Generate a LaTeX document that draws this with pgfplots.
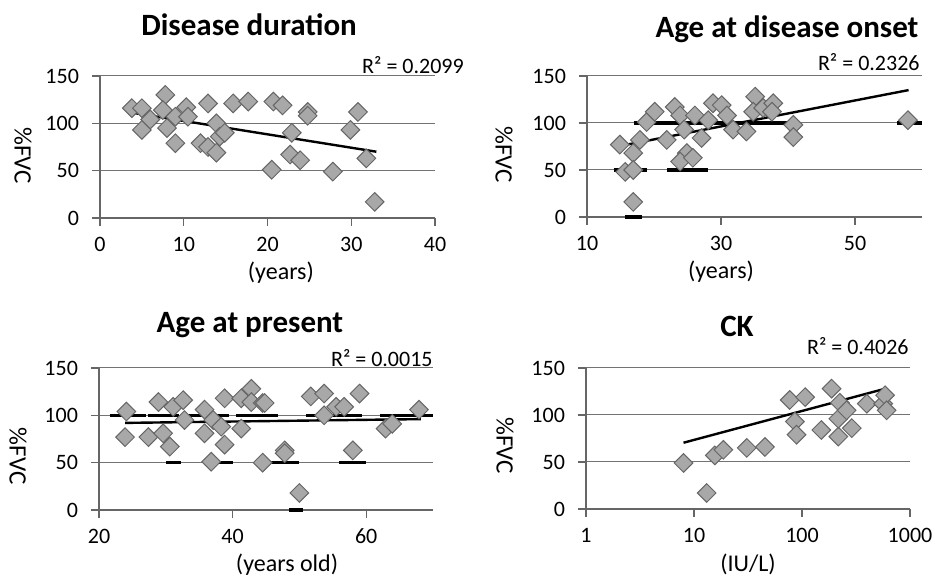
\documentclass[border=0pt]{standalone}
\usepackage{fontspec}
\setmainfont{Carlito}
\usepackage{pgfplots}
\pgfplotsset{compat=1.18}

\pgfplotsset{
  panel/.style={
    scale only axis,
    axis x line*=bottom, axis y line*=left,
    axis line style={black!60, line width=0.6pt},
    ymin=0, ymax=150, ytick={0,50,100,150},
    ymajorgrids, grid style={black!55, line width=0.5pt},
    tick style={black!60, line width=0.6pt},
    major tick length=4pt, tick align=outside,
    tick label style={font=\fontsize{11}{12}\selectfont},
    /pgf/number format/assume math mode=true,
    xticklabel style={yshift=-2pt},
    yticklabel style={xshift=-3pt},
    ylabel={\%FVC},
    clip=false,
  },
  xl/.style={every axis x label/.style={at={(axis description cs:#1,0)}, anchor=center,
    yshift=-27.5pt, font=\fontsize{12}{13}\selectfont}},
  yl/.style 2 args={every axis y label/.style={at={(axis description cs:0,#1)}, anchor=center,
    xshift=-#2, rotate=-90, font=\fontsize{12.5}{13}\selectfont}},
  dots/.style={only marks, mark=square*, mark size=3.3pt,
    mark options={rotate=45, fill=gray!68, draw=black!60, line width=0.5pt}},
  trend/.style={black, line width=1.2pt, no marks},
  seg/.style={black, line width=1.6pt, no marks},
}
\tikzset{
  ttl/.style={font=\bfseries\fontsize{15.5}{17}\selectfont, anchor=center},
  rsq/.style={font=\fontsize{11}{12}\selectfont, anchor=east, inner sep=0pt},
}

\begin{document}
\begin{tikzpicture}
\useasboundingbox (0,0) rectangle (467.5pt,288pt);

% Disease duration
\begin{axis}[panel, at={(50pt,179pt)}, anchor=south west,
  width=167.5pt, height=71pt,
  xmin=0, xmax=40, xtick={0,10,20,30,40},
  xlabel={(years)}, xl=0.54, yl={0.44}{38.5pt}]
\addplot[dots] coordinates {
 (3.8,116) (5,116) (5,93) (6,104) (7.8,130) (7.5,114) (8,95) (9,107) (9,79)
 (10.3,117) (10.5,107) (12,79) (12.9,121) (12.9,75) (13.9,100) (14.3,86)
 (13.9,69) (14.9,90) (15.9,121) (17.7,123) (20.7,123) (21.8,119) (24.8,112)
 (24.8,108) (22.9,90) (22.7,67) (23.9,61) (20.5,51) (27.8,49) (30.8,112)
 (29.9,93) (31.8,63) (32.8,17)};
\addplot[trend] coordinates {(4,111) (33,70)};
\node[ttl] at (axis description cs:0.445,1.359) {Disease duration};
\node[rsq] at (axis description cs:1.087,1.077) {R² = 0.2099};
\end{axis}

% Age at disease onset
\begin{axis}[panel, at={(293.5pt,179.5pt)}, anchor=south west,
  width=167.5pt, height=70.5pt,
  xmin=10, xmax=60, xtick={10,30,50},
  xlabel={(years)}, xl=0.40, yl={0.44}{41.5pt}]
\addplot[seg] coordinates {(17,100) (40.6,100)};
\addplot[seg] coordinates {(56.3,100) (60,100)};
\addplot[seg] coordinates {(14,50) (19,50)};
\addplot[seg] coordinates {(22,50) (28,50)};
\addplot[seg] coordinates {(15.7,0) (18.2,0)};
\addplot[dots] coordinates {
 (14.9,77) (16.9,68) (15.7,48) (16.9,50) (16.9,16) (17.9,82) (18.9,101)
 (20.1,112) (21.9,82) (23.1,117) (23.9,108) (24.5,93) (24.9,68) (23.9,59)
 (25.8,63) (26.1,108) (27.1,84) (28.1,103) (28.8,121) (30.1,119) (30.9,108)
 (31.8,93) (33.8,91) (35.1,128) (34.8,112) (36.3,116) (37.8,121) (37.6,112)
 (40.8,98) (40.8,85) (57.9,103)};
\addplot[trend] coordinates {(14.9,75.5) (58,135)};
\node[ttl] at (axis description cs:0.597,1.333) {Age at disease onset};
\node[rsq] at (axis description cs:0.994,1.099) {R² = 0.2326};
\end{axis}

% Age at present
\begin{axis}[panel, at={(49.5pt,33pt)}, anchor=south west,
  width=167pt, height=71pt,
  xmin=20, xmax=70, xtick={20,40,60},
  xlabel={(years old)}, xl=0.563, yl={0.38}{40.5pt}]
\addplot[seg] coordinates {(21.6,100) (27,100)};
\addplot[seg] coordinates {(27.3,100) (32,100)};
\addplot[seg] coordinates {(33,100) (39.5,100)};
\addplot[seg] coordinates {(40.5,100) (46.8,100)};
\addplot[seg] coordinates {(51,100) (59.3,100)};
\addplot[seg] coordinates {(62,100) (70,100)};
\addplot[seg] coordinates {(30.1,50) (32.3,50)};
\addplot[seg] coordinates {(37,50) (40,50)};
\addplot[seg] coordinates {(45,50) (50,50)};
\addplot[seg] coordinates {(56,50) (60,50)};
\addplot[seg] coordinates {(48.5,0) (50.5,0)};
\addplot[dots] coordinates {
 (24.1,104) (23.9,77) (27.4,77) (28.9,114) (29.6,81) (30.6,67) (31.1,109)
 (32.6,116) (32.8,95) (35.8,106) (35.8,81) (36.8,51) (37.1,95) (38.8,69)
 (38.8,118) (38.3,88) (41.3,86) (41.3,118) (42.8,128) (42.8,114) (44.5,113)
 (44.5,50) (44.8,113) (47.8,63) (47.8,60) (50,18) (51.7,120) (53.7,123)
 (53.7,100) (55.5,109) (56.7,109) (58,63) (59,123) (62.9,86) (63.9,91)
 (67.9,106)};
\addplot[trend] coordinates {(23.9,92) (68.2,96)};
\node[ttl] at (axis description cs:0.452,1.303) {Age at present};
\node[rsq] at (axis description cs:1.0,1.07) {R² = 0.0015};
\end{axis}

% CK
\begin{axis}[panel, at={(293pt,33.5pt)}, anchor=south west,
  width=162pt, height=70.5pt,
  xmode=log, xmin=1, xmax=1000, xtick={1,10,100,1000},
  xticklabels={1,10,100,1000}, xminorticks=false,
  xlabel={(IU/L)}, xl=0.5, yl={0.45}{40.5pt}]
\addplot[dots] coordinates {
 (8,49) (13.1,17) (15.6,57) (18.7,63) (30.8,65) (45.4,66) (77,116) (107,119)
 (86,93) (89,79) (188,128) (151,84) (217,77) (217,96) (224,113) (259,105)
 (289,86) (398,112) (565,112) (588,121) (608,105)};
\addplot[trend] coordinates {(8,70.5) (608,128.4)};
\node[ttl] at (axis description cs:0.466,1.298) {CK};
\node[rsq] at (axis description cs:0.997,1.156) {R² = 0.4026};
\end{axis}
\end{tikzpicture}
\end{document}
